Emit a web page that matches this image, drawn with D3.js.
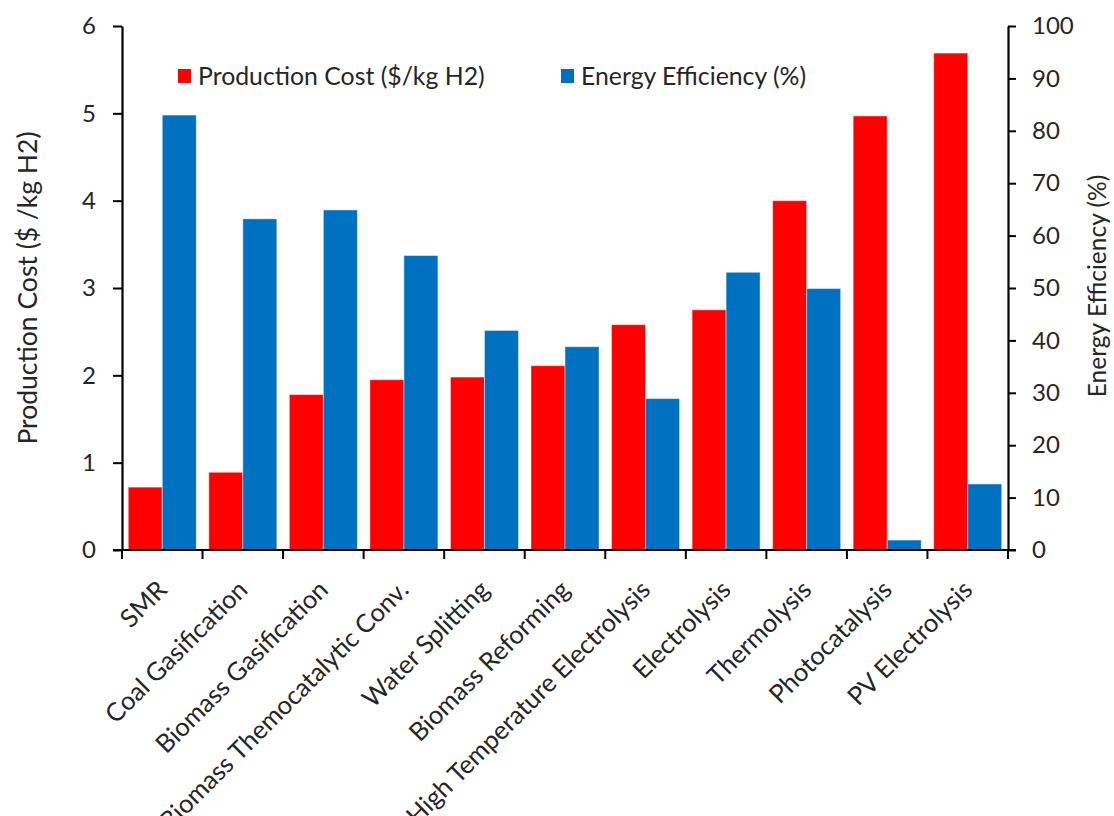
<!DOCTYPE html>
<html>
<head>
<meta charset="utf-8">
<script src="https://cdn.jsdelivr.net/npm/d3@7"></script>
<style>
  html, body { margin: 0; padding: 0; background: #fff; }
  svg text { font-family: Lato, "Open Sans", sans-serif; fill: #262626; }
</style>
</head>
<body>
<svg id="chart" width="1114" height="816"></svg>
<script>
// Hydrogen production routes: cost (left axis) and energy efficiency (right axis)
const categories = [
  "SMR", "Coal Gasification", "Biomass Gasification", "Biomass Themocatalytic Conv.",
  "Water Splitting", "Biomass Reforming", "High Temperature Electrolysis",
  "Electrolysis", "Thermolysis", "Photocatalysis", "PV Electrolysis"
];
const productionCost = [0.72, 0.89, 1.78, 1.95, 1.98, 2.11, 2.58, 2.75, 4.0, 4.97, 5.69];
const energyEfficiency = [83.0, 63.2, 64.9, 56.2, 41.9, 38.8, 28.9, 53.0, 49.9, 1.9, 12.6];
const costTicks = [0, 1, 2, 3, 4, 5, 6];
const effTicks = [0, 10, 20, 30, 40, 50, 60, 70, 80, 90, 100];
const seriesNames = ["Production Cost ($/kg H2)", "Energy Efficiency (%)"];
const seriesColors = ["#FF0000", "#0070C0"];

const svg = d3.select("#chart");
const plotLeft = 122, plotRight = 1008, plotTop = 26, plotBottom = 550;

const x = d3.scaleBand().domain(categories).range([plotLeft, plotRight]).padding(0);
const sub = d3.scaleBand().domain([0, 1]).range([0, x.bandwidth()])
  .paddingInner(0).paddingOuter(0.184);
const yCost = d3.scaleLinear().domain([0, 6]).range([plotBottom, plotTop]);
const yEff = d3.scaleLinear().domain([0, 100]).range([plotBottom, plotTop]);

// bars
const g = svg.append("g");
categories.forEach((c, i) => {
  const vals = [[productionCost[i], yCost], [energyEfficiency[i], yEff]];
  vals.forEach(([v, sc], k) => {
    g.append("rect")
      .attr("x", x(c) + sub(k))
      .attr("y", sc(v))
      .attr("width", sub.bandwidth())
      .attr("height", plotBottom - sc(v))
      .attr("fill", seriesColors[k])
      .attr("stroke", "rgba(255,255,255,0.45)")
      .attr("stroke-width", 1);
  });
});

// axes
const axisStyle = sel => {
  sel.select(".domain").attr("stroke", "#000").attr("stroke-width", 2.2);
  sel.selectAll(".tick line").attr("stroke", "#000").attr("stroke-width", 2);
  sel.selectAll(".tick text").style("font-size", "24px").attr("fill", "#262626");
};

svg.append("g")
  .attr("transform", `translate(${plotLeft},0)`)
  .call(d3.axisLeft(yCost).tickValues(costTicks).tickFormat(d3.format("d"))
    .tickSize(9).tickSizeOuter(0).tickPadding(17))
  .call(axisStyle);

svg.append("g")
  .attr("transform", `translate(${plotRight},0)`)
  .call(d3.axisRight(yEff).tickValues(effTicks).tickFormat(d3.format("d"))
    .tickSize(8).tickSizeOuter(0).tickPadding(16))
  .call(axisStyle);

// category axis with ticks at band boundaries
const xAxis = svg.append("g").attr("transform", `translate(0,${plotBottom})`);
xAxis.append("line").attr("x1", plotLeft - 9).attr("x2", plotRight + 8)
  .attr("y1", 0).attr("y2", 0).attr("stroke", "#000").attr("stroke-width", 2.2);
const bounds = categories.map(c => x(c)).concat([plotRight]);
xAxis.selectAll("line.tk").data(bounds).enter().append("line")
  .attr("class", "tk")
  .attr("x1", d => d).attr("x2", d => d).attr("y1", 0).attr("y2", 9)
  .attr("stroke", "#000").attr("stroke-width", 2);
xAxis.selectAll("text.cat").data(categories).enter().append("text")
  .attr("class", "cat")
  .attr("transform", d => `translate(${x(d) + x.bandwidth() / 2},${35}) rotate(-45)`)
  .attr("text-anchor", "end")
  .attr("dy", "0.35em")
  .style("font-size", "25.5px")
  .text(d => d);

// axis titles
svg.append("text")
  .attr("transform", `translate(28,${(plotTop + plotBottom) / 2}) rotate(-90)`)
  .attr("text-anchor", "middle").attr("dy", "0.35em")
  .style("font-size", "26.5px")
  .text("Production Cost ($ /kg H2)");
svg.append("text")
  .attr("transform", `translate(1097,${(plotTop + plotBottom) / 2 - 2}) rotate(-90)`)
  .attr("text-anchor", "middle").attr("dy", "0.35em")
  .style("font-size", "24.5px")
  .text("Energy Efficiency (%)");

// legend
const legendX = [178, 561];
seriesNames.forEach((name, k) => {
  const lg = svg.append("g").attr("transform", `translate(${legendX[k]},76)`);
  lg.append("rect").attr("x", 0).attr("y", -7).attr("width", 13).attr("height", 14)
    .attr("fill", seriesColors[k]);
  lg.append("text").attr("x", 20).attr("dy", "0.35em")
    .style("font-size", "24.8px").text(name);
});
</script>
</body>
</html>
